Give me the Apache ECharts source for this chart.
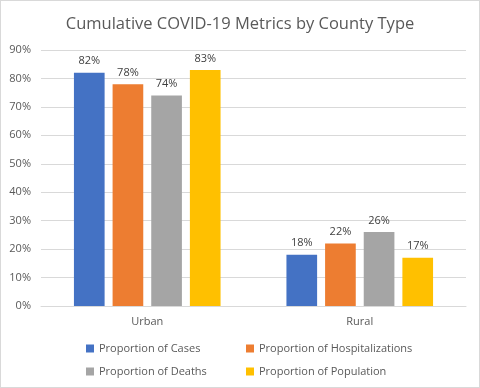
<!DOCTYPE html>
<html><head><meta charset="utf-8">
<script src="https://cdn.jsdelivr.net/npm/echarts@6/dist/echarts.min.js"></script>
<style>html,body{margin:0;padding:0;background:#fff}#c{width:480px;height:388px;box-sizing:border-box;border:1px solid #d9d9d9}</style>
</head><body><div id="c"></div>
<script>
const categories = ['Urban', 'Rural'];
const seriesNames = ['Proportion of Cases', 'Proportion of Hospitalizations', 'Proportion of Deaths', 'Proportion of Population'];
const casesVals = [82, 18];
const hospVals = [78, 22];
const deathVals = [74, 26];
const popVals = [83, 17];
const yTicks = [0, 90, 10];
const colors = ['#4472c4', '#ed7d31', '#a5a5a5', '#ffc000'];
const allVals = [casesVals, hospVals, deathVals, popVals];
const font = '"Open Sans", "Noto Sans", sans-serif';
const chart = echarts.init(document.getElementById('c'));
const legendPos = [[80, 337], [240, 337], [80, 360], [240, 360]];
chart.setOption({
  animation: false,
  title: { text: 'Cumulative COVID-19 Metrics by County Type', left: 'center', top: 10,
    textStyle: { fontFamily: font, fontSize: 16.5, fontWeight: 'normal', color: '#595959' } },
  legend: seriesNames.map((n, i) => ({
    data: [n], left: legendPos[i][0], top: legendPos[i][1], itemWidth: 8, itemHeight: 8, itemGap: 4,
    icon: 'rect', textStyle: { fontFamily: font, fontSize: 11, color: '#595959' }, selectedMode: false
  })),
  grid: { left: 40, right: 13, top: 49, bottom: 81, containLabel: false },
  xAxis: { type: 'category', data: categories,
    axisLine: { lineStyle: { color: '#d9d9d9' } }, axisTick: { show: false },
    axisLabel: { fontFamily: font, fontSize: 11, color: '#595959', margin: 10 } },
  yAxis: { type: 'value', min: yTicks[0], max: yTicks[1], interval: yTicks[2],
    axisLabel: { formatter: '{value}%', fontFamily: font, fontSize: 11, color: '#595959', margin: 10 },
    splitLine: { lineStyle: { color: '#d9d9d9' } }, axisLine: { show: false } },
  series: seriesNames.map((n, i) => ({
    name: n, type: 'bar', data: allVals[i], barGap: '26%', barCategoryGap: '31%',
    itemStyle: { color: colors[i] },
    label: { show: true, position: 'top', formatter: '{c}%', fontFamily: font, fontSize: 11, color: '#404040', distance: 6 }
  }))
});
</script></body></html>
